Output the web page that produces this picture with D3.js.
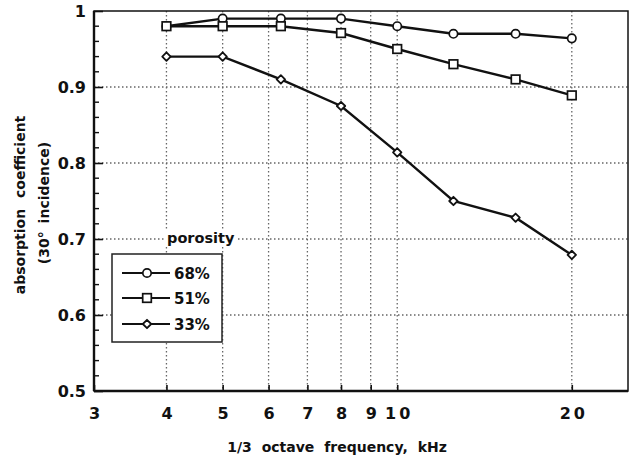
<!DOCTYPE html>
<html>
<head>
<meta charset="utf-8">
<script src="https://cdn.jsdelivr.net/npm/d3@7"></script>
<style>
  html, body { margin: 0; padding: 0; background: #fff; }
  svg { display: block; }
  text { font-family: "DejaVu Sans", "Liberation Sans", Arial, sans-serif; font-weight: bold; fill: #111; }
</style>
</head>
<body>
<svg id="chart" width="633" height="460"></svg>
<script>
// ---- data ----
const frequencies = [4, 5, 6.3, 8, 10, 12.5, 16, 20];
const porosity68 = [0.98, 0.99, 0.99, 0.99, 0.98, 0.97, 0.97, 0.964];
const porosity51 = [0.98, 0.98, 0.98, 0.971, 0.95, 0.93, 0.91, 0.889];
const porosity33 = [0.94, 0.94, 0.91, 0.875, 0.814, 0.75, 0.728, 0.679];
const seriesNames = ["68%", "51%", "33%"];
const seriesMarkers = ["circle", "square", "diamond"];
const xTickValues = [3, 4, 5, 6, 7, 8, 9, 10, 20];
const xGridValues = [4, 5, 6, 7, 8, 9, 10, 20];
const yTickValues = [0.5, 0.6, 0.7, 0.8, 0.9, 1];
const yTickLabels = ["0.5", "0.6", "0.7", "0.8", "0.9", "1"];

const series = [porosity68, porosity51, porosity33].map((vals, i) => ({
  name: seriesNames[i], marker: seriesMarkers[i],
  points: frequencies.map((f, j) => ({ x: f, y: vals[j] }))
}));

const svg = d3.select("#chart");
const L = 94, R = 628, T = 11, B = 391;
const x = d3.scaleLog().domain([3, 25]).range([L, R]);
const y = d3.scaleLinear().domain([0.5, 1]).range([B, T]);

// grid
const grid = svg.append("g").attr("stroke", "#666").attr("stroke-width", 1.3)
  .attr("stroke-dasharray", "1.5,2.5");
grid.selectAll("line.v").data(xGridValues).join("line").attr("class", "v")
  .attr("x1", d => x(d)).attr("x2", d => x(d)).attr("y1", T).attr("y2", B);
grid.selectAll("line.h").data([0.6, 0.7, 0.8, 0.9]).join("line").attr("class", "h")
  .attr("x1", L).attr("x2", R).attr("y1", d => y(d)).attr("y2", d => y(d));

// frame
svg.append("rect").attr("x", L).attr("y", T).attr("width", R - L).attr("height", B - T)
  .attr("fill", "none").attr("stroke", "#111").attr("stroke-width", 1.5);
svg.append("line").attr("x1", L).attr("x2", L).attr("y1", T).attr("y2", B).attr("stroke", "#111").attr("stroke-width", 2.4);
svg.append("line").attr("x1", L).attr("x2", R).attr("y1", B).attr("y2", B).attr("stroke", "#111").attr("stroke-width", 2.4);

const tickFont = sel => sel.attr("font-size", 16).attr("font-family", "DejaVu Sans, Liberation Sans, Arial, sans-serif")
  .attr("font-weight", "bold").attr("fill", "#111");

// y axis (ticks inside)
const yAxis = d3.axisLeft(y).tickValues(yTickValues).tickFormat((d, i) => yTickLabels[i]).tickSize(-9).tickPadding(8);
const gy = svg.append("g").attr("transform", `translate(${L},0)`).call(yAxis);
gy.select(".domain").remove();
gy.selectAll(".tick line").attr("stroke", "#111").attr("stroke-width", 1.6);
gy.selectAll(".tick text").call(tickFont);
const minorY = d3.range(0.52, 1.0, 0.02).filter(v => Math.abs(v * 10 - Math.round(v * 10)) > 0.01);
svg.append("g").selectAll("line").data(minorY).join("line")
  .attr("x1", L).attr("x2", L + 5).attr("y1", d => y(d)).attr("y2", d => y(d))
  .attr("stroke", "#111").attr("stroke-width", 1.4);

// x axis (ticks inside)
const xAxis = d3.axisBottom(x).tickValues(xTickValues).tickFormat(d => String(d)).tickSize(-6).tickPadding(17);
const gx = svg.append("g").attr("transform", `translate(0,${B})`).call(xAxis);
gx.select(".domain").remove();
gx.selectAll(".tick line").attr("stroke", "#111").attr("stroke-width", 1.6);
gx.selectAll(".tick text").call(tickFont).attr("letter-spacing", d => d >= 10 ? 3 : 0).attr("dx", d => d >= 10 ? 1.5 : 0);

// axis titles
svg.append("text").attr("x", 337).attr("y", 452).attr("text-anchor", "middle")
  .attr("font-size", 14).attr("word-spacing", 5).text("1/3 octave frequency, kHz");
svg.append("text").attr("transform", "translate(25,205) rotate(-90)").attr("text-anchor", "middle")
  .attr("font-size", 14).attr("word-spacing", 6).text("absorption coefficient");
svg.append("text").attr("transform", "translate(49,203) rotate(-90)").attr("text-anchor", "middle")
  .attr("font-size", 14).attr("word-spacing", 3).text("(30° incidence)");

// markers
function drawMarker(g, type, cx, cy) {
  if (type === "circle") {
    g.append("circle").attr("cx", cx).attr("cy", cy).attr("r", 4.2)
      .attr("fill", "#fff").attr("stroke", "#111").attr("stroke-width", 1.7);
  } else if (type === "square") {
    g.append("rect").attr("x", cx - 4.3).attr("y", cy - 4.3).attr("width", 8.6).attr("height", 8.6)
      .attr("fill", "#fff").attr("stroke", "#111").attr("stroke-width", 1.7);
  } else {
    g.append("path").attr("d", `M${cx},${cy - 4.2}L${cx + 4.2},${cy}L${cx},${cy + 4.2}L${cx - 4.2},${cy}Z`)
      .attr("fill", "#fff").attr("stroke", "#111").attr("stroke-width", 1.8).attr("stroke-linejoin", "round");
  }
}

const line = d3.line().x(d => x(d.x)).y(d => y(d.y));
series.forEach(s => {
  svg.append("path").datum(s.points).attr("d", line)
    .attr("fill", "none").attr("stroke", "#111").attr("stroke-width", 2.4);
  const g = svg.append("g");
  s.points.forEach(p => drawMarker(g, s.marker, x(p.x), y(p.y)));
});

// legend
svg.append("rect").attr("x", 164).attr("y", 229).attr("width", 74).attr("height", 18).attr("fill", "#fff");
svg.append("text").attr("x", 167).attr("y", 243).attr("font-size", 14.5).text("porosity");
svg.append("rect").attr("x", 112).attr("y", 254).attr("width", 110).attr("height", 88)
  .attr("fill", "#fff").attr("stroke", "#222").attr("stroke-width", 1.5);
const legRows = [273, 298, 324];
series.forEach((s, i) => {
  const ly = legRows[i];
  svg.append("line").attr("x1", 122).attr("x2", 170).attr("y1", ly).attr("y2", ly)
    .attr("stroke", "#111").attr("stroke-width", 2.2);
  drawMarker(svg, s.marker, 147, ly);
  svg.append("text").attr("x", 174).attr("y", ly + 6).attr("font-size", 15).text(s.name);
});
</script>
</body>
</html>
